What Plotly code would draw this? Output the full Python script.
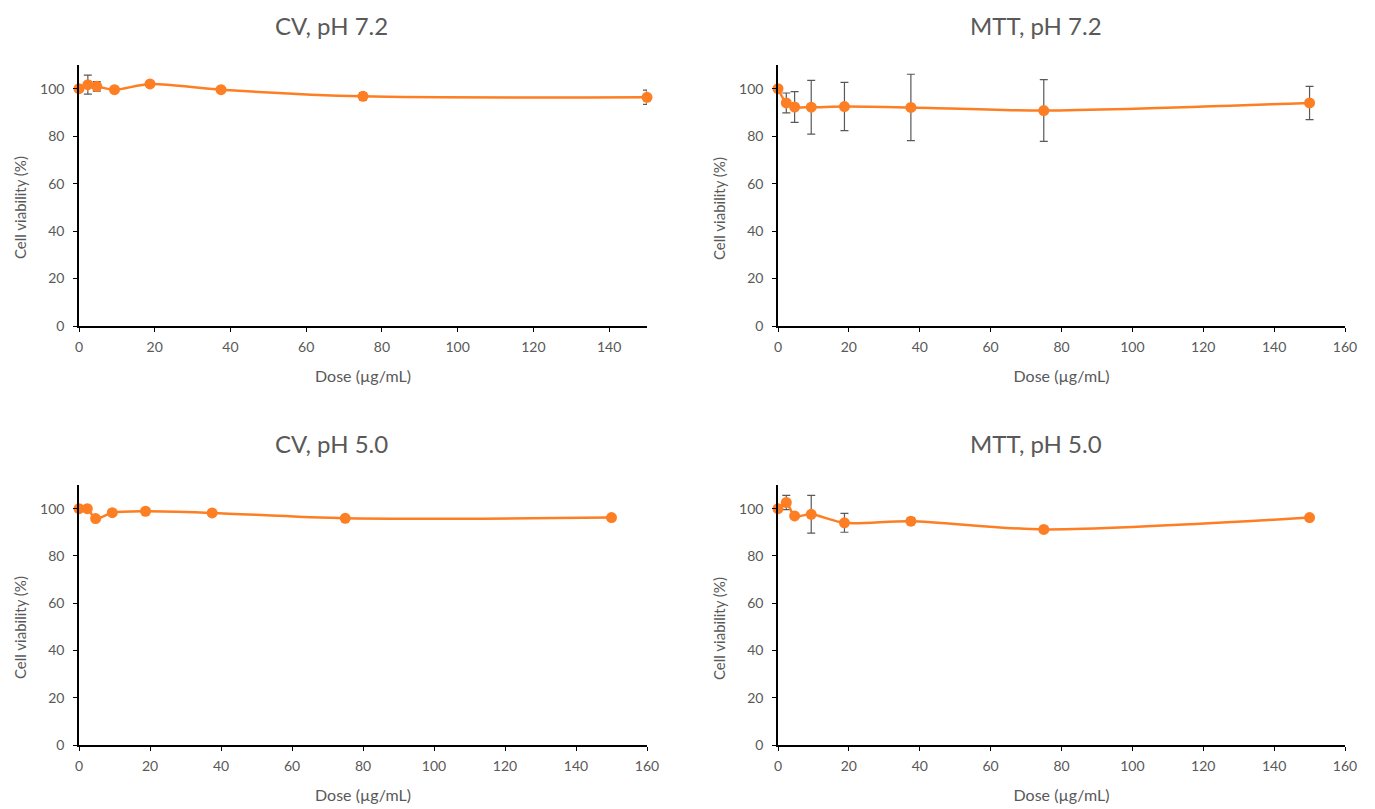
import plotly.graph_objects as go

dose = [0, 2.34, 4.69, 9.375, 18.75, 37.5, 75, 150]

cv72 = [100, 101.7, 101.0, 99.6, 102.0, 99.6, 96.8, 96.4]
cv72_err = [0, 4.0, 2.0, 0, 0, 0, 1.5, 3.0]

mtt72 = [100, 94.0, 92.3, 92.2, 92.5, 92.1, 90.8, 94.0]
mtt72_err = [0, 4.2, 6.5, 11.3, 10.2, 14.0, 13.0, 7.0]

cv50 = [100, 100.0, 95.8, 98.3, 98.9, 98.2, 95.9, 96.2]
cv50_err = [0, 0, 0, 0, 0, 0, 0, 0]

mtt50 = [100, 102.6, 96.9, 97.6, 94.0, 94.7, 91.2, 96.2]
mtt50_err = [0, 3.0, 0, 8.0, 4.0, 1.5, 0, 0]

titles = ["CV, pH 7.2", "MTT, pH 7.2", "CV, pH 5.0", "MTT, pH 5.0"]
series = [(cv72, cv72_err), (mtt72, mtt72_err), (cv50, cv50_err), (mtt50, mtt50_err)]
xmax = [150, 160, 160, 160]
x_title = "Dose (µg/mL)"
y_title = "Cell viability (%)"

W, H = 1375, 809
OFF = 8  # page body margin offset
boxes = [  # left, top, right, bottom in window pixels
    (79, 65, 647, 326),
    (778, 65, 1345, 326),
    (79, 485, 647, 745),
    (778, 485, 1345, 745),
]
title_pos = [(331, 25), (1036, 25), (331, 443), (1036, 443)]
ytitle_pos = [(20, 208), (719, 208), (20, 628), (719, 628)]

ORANGE = "#FD7E23"
GREY = "#595959"
FONT = "Lato"

fig = go.Figure()
for i, ((vals, errs), box) in enumerate(zip(series, boxes)):
    n = "" if i == 0 else str(i + 1)
    fig.add_trace(go.Scatter(
        x=dose, y=vals, mode="lines+markers", cliponaxis=False,
        line=dict(color=ORANGE, width=2.5, shape="spline", smoothing=0.8),
        marker=dict(color=ORANGE, size=11),
        error_y=dict(type="data", array=errs, visible=True, color=GREY, thickness=1.2, width=4),
        xaxis="x" + n, yaxis="y" + n, showlegend=False,
    ))
    l, t, r, b = [v - OFF for v in box]
    axis_common = dict(showline=True, linecolor="black", linewidth=1.5, ticks="outside",
                       tickcolor="black", ticklen=4, showgrid=False, zeroline=False,
                       automargin=False,
                       tickfont=dict(family=FONT, size=14, color=GREY))
    fig.update_layout(**{
        "xaxis" + n: dict(domain=[l / W, r / W], anchor="y" + n, range=[0, xmax[i]],
                          tick0=0, dtick=20, ticklabelstandoff=3,
                          title=dict(text=x_title, font=dict(family=FONT, size=16, color=GREY), standoff=17),
                          **axis_common),
        "yaxis" + n: dict(domain=[1 - b / H, 1 - t / H], anchor="x" + n, range=[0, 110],
                          tick0=0, dtick=20, ticklabelstandoff=6,
                          **axis_common),
    })
    tx, ty = title_pos[i]
    fig.add_annotation(text=titles[i], x=(tx - OFF) / W, y=1 - (ty - OFF) / H, xref="paper", yref="paper",
                       showarrow=False, xanchor="center", yanchor="middle",
                       font=dict(family=FONT, size=24, color=GREY))
    yx, yy = ytitle_pos[i]
    fig.add_annotation(text=y_title, x=(yx - OFF) / W, y=1 - (yy - OFF) / H, xref="paper", yref="paper",
                       showarrow=False, xanchor="center", yanchor="middle", textangle=-90,
                       font=dict(family=FONT, size=15, color=GREY))

fig.update_layout(width=W, height=H, margin=dict(l=0, r=0, t=0, b=0),
                  plot_bgcolor="white", paper_bgcolor="white")
fig.write_html("out.html")
